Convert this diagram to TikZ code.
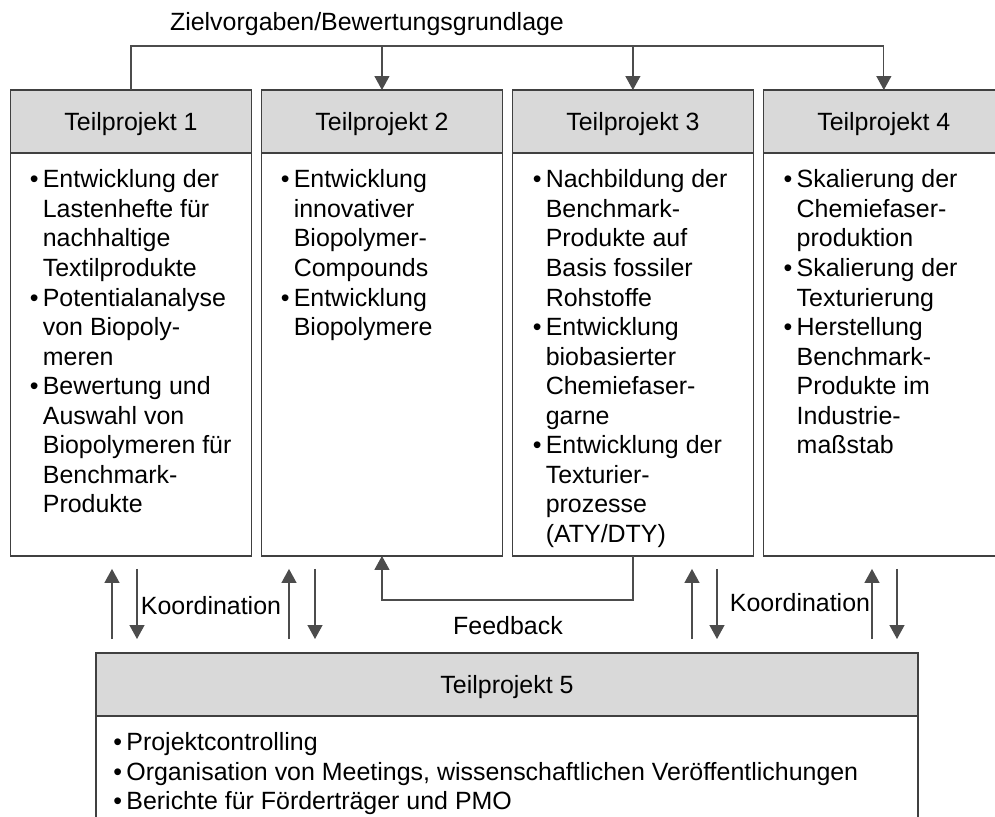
\documentclass[tikz,border=0pt]{standalone}
\usepackage{fontspec}
\setmainfont{Liberation Sans}
\usetikzlibrary{positioning,calc,arrows.meta}
\newcommand\bul{\makebox[0.26cm][l]{•}}
\newcommand\ein{\hspace*{0.26cm}}

\begin{document}
\begin{tikzpicture}[x=0.02cm,y=-0.02cm,
  font=\fontsize{14.2pt}{16.8pt}\selectfont,
  kopf/.style={draw=black!75,line width=0.8pt,fill=black!15,minimum width=4.82cm,minimum height=1.26cm,outer sep=0pt,inner sep=0pt,text depth=0pt},
  rumpf/.style={draw=black!75,line width=0.8pt,minimum width=4.82cm,minimum height=8.06cm,outer sep=0pt,inner sep=0pt},
  liste/.style={anchor=north west,align=left,inner sep=0pt},
  pfeil/.style={draw=black!70,line width=0.7pt,-{Triangle[length=0.28cm,width=0.3cm]}}]
\clip (0,0) rectangle (995,816);
%\draw[help lines] (0,0) grid[step=1cm] (995,816);
\node[anchor=base] (ziel) at (367,30) {Zielvorgaben/Bewertungsgrundlage};
\coordinate (zl) at (131,46);

\node[kopf] (tp1) at (131,121.5) {Teilprojekt 1};
\node[kopf,right=0.2cm of tp1] (tp2) {Teilprojekt 2};
\node[kopf,right=0.2cm of tp2] (tp3) {Teilprojekt 3};
\node[kopf,right=0.2cm of tp3] (tp4) {Teilprojekt 4};
\node[rumpf,below=0pt of tp1] (tp1b) {};
\node[rumpf,below=0pt of tp2] (tp2b) {};
\node[rumpf,below=0pt of tp3] (tp3b) {};
\node[rumpf,below=0pt of tp4] (tp4b) {};

\node[liste] (l1) at ($(tp1b.north west)+(19,16.5)$) {\bul Entwicklung der\\ \ein Lastenhefte für\\ \ein nachhaltige\\ \ein Textilprodukte\\
  \bul Potentialanalyse\\ \ein von Biopoly-\\ \ein meren\\
  \bul Bewertung und\\ \ein Auswahl von\\ \ein Biopolymeren für\\ \ein Benchmark-\\ \ein Produkte};
\node[liste] (l2) at ($(tp2b.north west)+(19,16.5)$) {\bul Entwicklung\\ \ein innovativer\\ \ein Biopolymer-\\ \ein Compounds\\
  \bul Entwicklung\\ \ein Biopolymere};
\node[liste] (l3) at ($(tp3b.north west)+(20,16.5)$) {\bul Nachbildung der\\ \ein Benchmark-\\ \ein Produkte auf\\ \ein Basis fossiler\\ \ein Rohstoffe\\
  \bul Entwicklung\\ \ein biobasierter\\ \ein Chemiefaser-\\ \ein garne\\
  \bul Entwicklung der\\ \ein Texturier-\\ \ein prozesse\\ \ein (ATY/DTY)};
\node[liste] (l4) at ($(tp4b.north west)+(20,16.5)$) {\bul Skalierung der\\ \ein Chemiefaser-\\ \ein produktion\\
  \bul Skalierung der\\ \ein Texturierung\\
  \bul Herstellung\\ \ein Benchmark-\\ \ein Produkte im\\ \ein Industrie-\\ \ein maßstab};

\node[kopf,minimum width=16.44cm] (tp5) at (507,684.5) {Teilprojekt 5};
\node[rumpf,minimum width=16.44cm,minimum height=3cm,below=0pt of tp5] (tp5b) {};
\node[liste] (l5) at ($(tp5b.north west)+(17,16.5)$) {\bul Projektcontrolling\\
  \bul Organisation von Meetings, wissenschaftlichen Veröffentlichungen\\
  \bul Berichte für Förderträger und PMO};

% Zielvorgaben
\draw[pfeil] (tp1.north) |- (tp4.north |- zl) -- (tp4.north);
\draw[pfeil] (tp2.north |- zl) -- (tp2.north);
\draw[pfeil] (tp3.north |- zl) -- (tp3.north);

% Koordination
\foreach \x in {112,289,692,872}
  \draw[pfeil,shorten <=0.28cm,shorten >=0.26cm] (\x,0 |- tp5.north) -- (\x,0 |- tp1b.south);
\foreach \x in {137,315,717,897}
  \draw[pfeil,shorten <=0.26cm,shorten >=0.28cm] (\x,0 |- tp1b.south) -- (\x,0 |- tp5.north);
\node[anchor=base] (ko1) at (211,614) {Koordination};
\node[anchor=base] (ko2) at (800,611) {Koordination};

% Feedback
\draw[pfeil] (tp3b.south) -- ++(0,44) -| (tp2b.south);
\node[anchor=base] (fb) at (508,634) {Feedback};
\end{tikzpicture}
\end{document}
